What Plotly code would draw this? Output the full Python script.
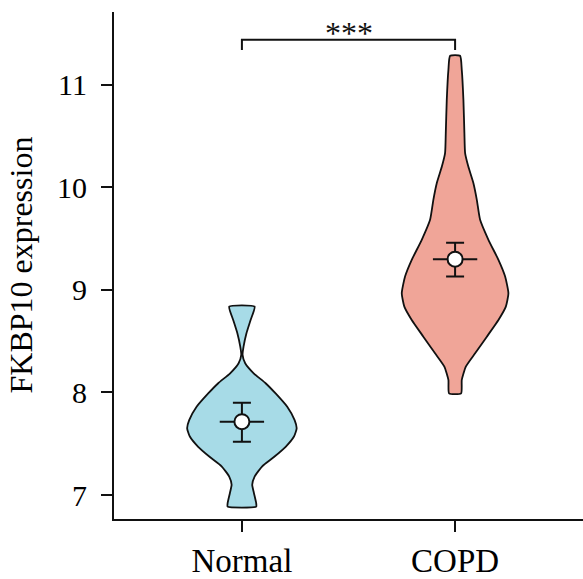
import plotly.graph_objects as go

# ---------------- data ----------------
categories = ["Normal", "COPD"]

# violin outlines: expression level vs relative density (max = 1)
normal_levels = [6.886, 6.92, 7.02, 7.10, 7.18, 7.28, 7.37, 7.47, 7.57, 7.65, 7.73, 7.86, 7.99, 8.09,
                 8.187, 8.285, 8.366, 8.447, 8.577, 8.707, 8.837]
normal_density = [0.261, 0.261, 0.219, 0.188, 0.232, 0.371, 0.585, 0.799, 0.951, 1.0, 0.963, 0.828, 0.616,
                  0.433, 0.215, 0.060, 0.012, 0.030, 0.083, 0.159, 0.232]

copd_levels = [7.992, 8.122, 8.252, 8.382, 8.544, 8.707, 8.837, 8.968, 9.13, 9.293, 9.488, 9.683, 9.878,
               10.04, 10.20, 10.334, 10.529, 10.854, 11.146, 11.283]
copd_density = [0.110, 0.122, 0.196, 0.366, 0.580, 0.792, 0.927, 0.974, 0.914, 0.792, 0.609, 0.457, 0.397,
                0.335, 0.243, 0.183, 0.170, 0.152, 0.122, 0.091]

means = [7.715, 9.30]
err_low = [0.195, 0.17]
err_high = [0.185, 0.16]

sig_label = "***"
sig_y = 11.44
sig_tick = 0.10

y_ticks = [7, 8, 9, 10, 11]
y_title = "FKBP10 expression"

# ---------------- styling ----------------
colors = ["#a7dbe7", "#f0a598"]
max_half_width = 0.2568
mean_line_half = 0.104
line_col = "#111111"
font_family = "Liberation Serif, Times New Roman, serif"

fig = go.Figure()

profiles = [(normal_levels, normal_density), (copd_levels, copd_density)]
for i, (lv, dn) in enumerate(profiles):
    xs = [i - d * max_half_width for d in dn] + [i + d * max_half_width for d in reversed(dn)]
    ys = list(lv) + list(reversed(lv))
    xs.append(xs[0])
    ys.append(ys[0])
    fig.add_trace(go.Scatter(
        x=xs, y=ys, mode="lines", fill="toself", fillcolor=colors[i],
        line=dict(color=line_col, width=1.8, shape="spline", smoothing=0.5),
        hoverinfo="skip", showlegend=False,
    ))

# horizontal mean lines
for i, m in enumerate(means):
    fig.add_trace(go.Scatter(
        x=[i - mean_line_half, i + mean_line_half], y=[m, m], mode="lines",
        line=dict(color=line_col, width=2), hoverinfo="skip", showlegend=False,
    ))

# mean +/- error
fig.add_trace(go.Scatter(
    x=[0, 1], y=means, mode="markers",
    marker=dict(size=15, color="white", line=dict(color=line_col, width=2)),
    error_y=dict(type="data", symmetric=False, array=err_high, arrayminus=err_low,
                 color=line_col, thickness=2, width=9),
    showlegend=False,
))

# significance bracket
fig.add_trace(go.Scatter(
    x=[0, 0, 1, 1], y=[sig_y - sig_tick, sig_y, sig_y, sig_y - sig_tick],
    mode="lines", line=dict(color=line_col, width=2), showlegend=False, hoverinfo="skip",
))
fig.add_annotation(x=0.5, y=sig_y, text=sig_label, showarrow=False, yanchor="bottom",
                   yshift=-13, font=dict(size=32, family=font_family, color=line_col))

# y-axis title
fig.add_annotation(xref="paper", yref="paper", x=-0.2004, y=0.5, text=y_title,
                   textangle=-90, showarrow=False, xanchor="center", yanchor="middle",
                   font=dict(size=32, family=font_family, color="black"))

fig.update_layout(
    width=583, height=579,
    margin=dict(l=114, r=0, t=12, b=60),
    plot_bgcolor="white", paper_bgcolor="white",
    font=dict(family=font_family, size=30, color="black"),
    xaxis=dict(
        range=[-0.6, 1.6], tickmode="array", tickvals=[0, 1], ticktext=categories,
        showline=True, linecolor=line_col, linewidth=2, ticks="outside",
        ticklen=11, tickwidth=2, tickcolor=line_col, showgrid=False, zeroline=False,
        tickfont=dict(size=33, color="black"),
    ),
    yaxis=dict(
        range=[6.766, 11.71], tickvals=y_ticks, showline=True, linecolor=line_col,
        linewidth=2, ticks="outside", ticklen=11, tickwidth=2, tickcolor=line_col,
        showgrid=False, zeroline=False, tickfont=dict(size=30, color="black"),
        ticklabelstandoff=8,
    ),
)

fig.write_html("out.html")
